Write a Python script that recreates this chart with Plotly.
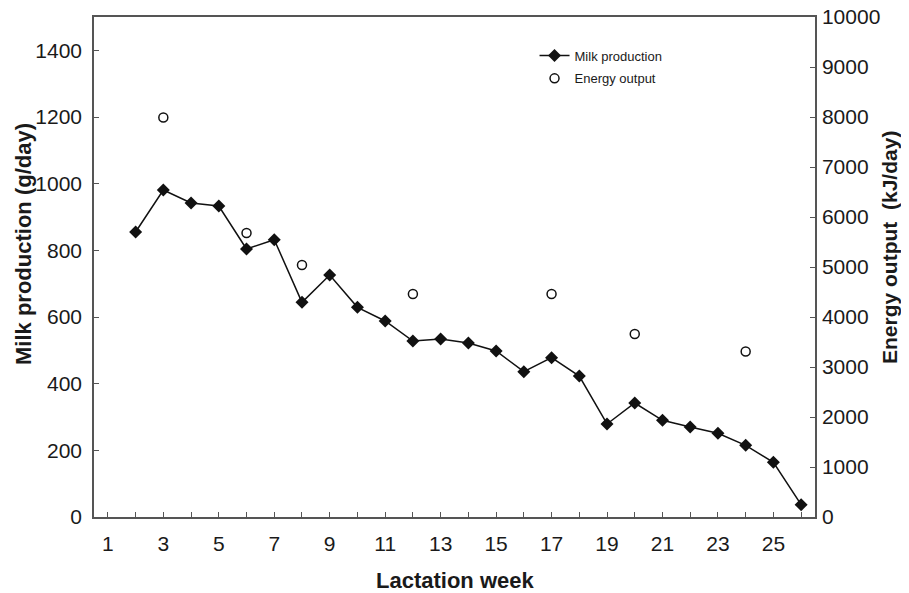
import plotly.graph_objects as go

weeks = list(range(2, 27))
milk_production = [855, 981, 942, 933, 804, 832, 644, 726, 629, 588, 528, 534,
                   522, 498, 436, 478, 423, 279, 342, 290, 270, 251, 215, 164, 37]
energy_weeks = [3, 6, 8, 12, 17, 20, 24]
energy_output = [7990, 5680, 5040, 4460, 4460, 3660, 3310]
x_tick_labels = [str(w) for w in range(1, 26, 2)]
left_ticks = list(range(0, 1401, 200))
right_ticks = list(range(0, 10001, 1000))

FONT = "Liberation Sans, Arial, sans-serif"
AXCOL = "#555555"
TXT = "#1a1a1a"

fig = go.Figure()
fig.add_trace(go.Scatter(
    x=weeks, y=milk_production, name="Milk production", mode="lines+markers",
    line=dict(color="#111111", width=1.5),
    marker=dict(symbol="diamond", size=10, color="#111111"),
    legendgroup="a", yaxis="y"))
fig.add_trace(go.Scatter(
    x=energy_weeks, y=energy_output, name="Energy output", mode="markers",
    marker=dict(symbol="circle-open", size=9, color="#111111", line=dict(width=1.5)),
    legendgroup="b", yaxis="y2"))

fig.update_layout(
    width=909, height=593,
    margin=dict(l=86, r=102, t=9, b=84, autoexpand=False),
    paper_bgcolor="white", plot_bgcolor="white",
    font=dict(family=FONT, color=TXT, size=21),
    showlegend=True,
    legend=dict(x=0.611, y=0.953, xanchor="left", yanchor="top",
                font=dict(size=13, color=TXT), bgcolor="rgba(0,0,0,0)",
                traceorder="grouped", tracegroupgap=3),
    xaxis=dict(range=[0.5, 26.5], tickvals=list(range(1, 26, 2)), ticktext=x_tick_labels,
               ticks="inside", ticklen=5, tickcolor=AXCOL, tickwidth=1.2,
               minor=dict(dtick=1, tick0=0, ticks="inside", ticklen=5, tickcolor=AXCOL),
               showline=True, linecolor=AXCOL, linewidth=1.5, mirror=True,
               showgrid=False, zeroline=False, automargin=False,
               ticklabelstandoff=7,
               tickfont=dict(size=21, color=TXT)),
    yaxis=dict(range=[0, 1500], tickvals=left_ticks, ticktext=[str(v) for v in left_ticks],
               ticks="inside", ticklen=5, tickcolor=AXCOL, tickwidth=1.2,
               showline=True, linecolor=AXCOL, linewidth=1.5, automargin=False,
               ticklabelstandoff=6, ticklabeloverflow="allow",
               showgrid=False, zeroline=False, tickfont=dict(size=21, color=TXT)),
    yaxis2=dict(range=[0, 10000], tickvals=right_ticks, ticktext=[str(v) for v in right_ticks],
                overlaying="y", side="right", automargin=False,
                ticks="inside", ticklen=5, tickcolor=AXCOL, tickwidth=1.2,
                showline=True, linecolor=AXCOL, linewidth=1.5,
                ticklabelstandoff=1, ticklabeloverflow="allow",
                showgrid=False, zeroline=False, tickfont=dict(size=21, color=TXT)),
    annotations=[
        dict(text="<b>Milk production (g/day)</b>", xref="paper", yref="paper",
             x=-0.0971, y=0.546, textangle=-90, showarrow=False,
             font=dict(size=22, color=TXT), xanchor="center", yanchor="middle"),
        dict(text="<b>Energy output  (kJ/day)</b>", xref="paper", yref="paper",
             x=1.104, y=0.54, textangle=-90, showarrow=False,
             font=dict(size=21, color=TXT), xanchor="center", yanchor="middle"),
        dict(text="<b>Lactation week</b>", xref="paper", yref="paper",
             x=0.5, y=-0.126, showarrow=False,
             font=dict(size=22, color=TXT), xanchor="center", yanchor="middle"),
    ],
)

fig.write_html("out.html")
